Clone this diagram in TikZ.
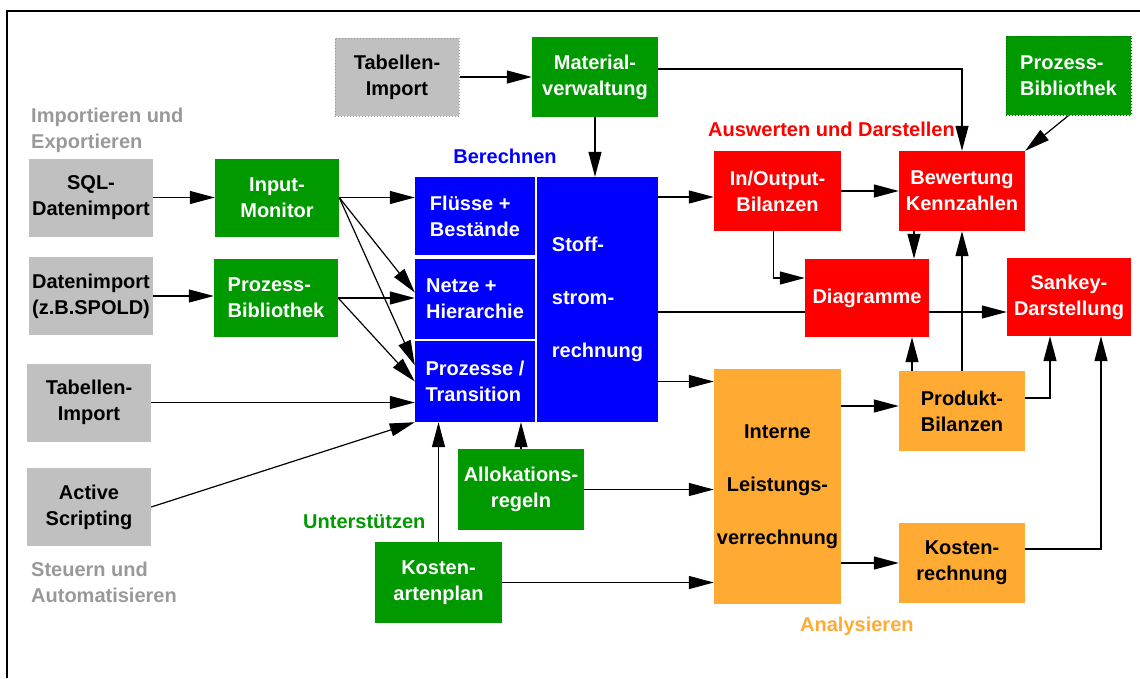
\documentclass[tikz,border=0pt]{standalone}
\usepackage{fontspec}
\setmainfont{Liberation Sans}
\usetikzlibrary{arrows.meta, positioning}

\definecolor{boxgray}{RGB}{192,192,192}
\definecolor{labelgray}{RGB}{153,153,153}
\definecolor{dkgreen}{RGB}{0,153,0}
\definecolor{orng}{RGB}{255,170,51}

\newcommand{\boxfont}{\fontsize{20}{26}\selectfont\bfseries}

\tikzset{
  box/.style={inner sep=0pt, align=center, font=\boxfont, minimum width=124pt, minimum height=78pt},
  importbox/.style={box, fill=boxgray, text=black},
  supportbox/.style={box, fill=dkgreen, text=white},
  calcbox/.style={box, fill=blue, text=white, align=left, minimum width=120pt},
  evalbox/.style={box, fill=red, text=white},
  analysebox/.style={box, fill=orng, text=black},
  heading/.style={font=\boxfont, inner sep=0pt, align=left},
  flow/.style={-{Triangle[length=25pt,width=13pt]}, line width=1.2pt},
  plain/.style={line width=1.2pt}
}

\begin{document}
\begin{tikzpicture}[x=1pt,y=-1pt]
\useasboundingbox (0,0) rectangle (1140,678);
\draw [line width=2pt] (7,678) -- (7,11) -- (1140,11);

% Importieren / Steuern
\node [heading, text=labelgray, anchor=west] (lbimport) at (31,130) {Importieren und\\Exportieren};
\node [importbox] (sqlimp) at (91,197.5) {SQL-\\Datenimport};
\node [importbox] (datimp) at (91,296) {Datenimport\\(z.B.SPOLD)};
\node [importbox] (tabimp) at (89,402.5) {Tabellen-\\Import};
\node [importbox] (actscr) at (89,507) {Active\\Scripting};
\node [heading, text=labelgray, anchor=west] (lbsteuern) at (31,582) {Steuern und\\Automatisieren};
\node [importbox, draw=labelgray, dotted, line width=1pt] (tabtop) at (397,77) {Tabellen-\\Import};

% Unterstuetzen
\node [supportbox] (inmon) at (277,197.5) {Input-\\Monitor};
\node [supportbox, align=left] (procbib) at (276,298) {Prozess-\\Bibliothek};
\node [supportbox, minimum width=126pt, minimum height=80pt] (matver) at (595,77) {Material-\\verwaltung};
\node [supportbox, align=left, minimum width=125pt, minimum height=79pt,
       draw=green!40!black, dotted, line width=1pt] (procbibtop) at (1068.5,75.5) {Prozess-\\Bibliothek};
\node [supportbox, minimum width=126pt, minimum height=81pt] (alloc) at (521,489.5) {Allokations-\\regeln};
\node [supportbox, minimum width=127pt, minimum height=81pt] (kostart) at (438.5,582.5) {Kosten-\\artenplan};
\node [heading, text=dkgreen, anchor=west] (lbsupport) at (303,522) {Unterstützen};

% Berechnen
\node [heading, text=blue] (lbcalc) at (505,156) {Berechnen};
\node [calcbox] (flows) at (475,216) {Flüsse +\\Bestände};
\node [calcbox, minimum height=80pt] (netze) at (475,298.5) {Netze +\\Hierarchie};
\node [calcbox, minimum height=81pt] (procs) at (475,381.5) {Prozesse /\\Transition};
\node [calcbox, minimum width=121pt, minimum height=245pt] (stoff) at (597.5,299.5) {Stoff-\\[27pt]strom-\\[27pt]rechnung};

% Auswerten und Darstellen
\node [heading, text=red, anchor=east] (lbeval) at (955,129.5) {Auswerten und Darstellen};
\node [evalbox, minimum width=127pt, minimum height=80pt] (iobil) at (777.5,191) {In/Output-\\Bilanzen};
\node [evalbox, minimum width=126pt, minimum height=80pt] (bewert) at (962,191) {Bewertung\\Kennzahlen};
\node [evalbox] (diagr) at (867,298) {Diagramme};
\node [evalbox] (sankey) at (1069,297) {Sankey-\\Darstellung};

% Analysieren
\node [analysebox, minimum width=127pt, minimum height=235pt] (intern) at (777.5,486.5) {Interne\\[27pt]Leistungs-\\[27pt]verrechnung};
\node [analysebox, minimum width=126pt, minimum height=80pt] (prodbil) at (962,411) {Produkt-\\Bilanzen};
\node [analysebox, minimum width=126pt, minimum height=80pt] (kostrech) at (962,563) {Kosten-\\rechnung};
\node [heading, text=orng, anchor=west] (lbanalyse) at (800,626.5) {Analysieren};

% Verbindungen links
\draw [flow] (sqlimp) -- (inmon);
\draw [flow] (datimp.east) -- (datimp.east -| procbib.west);
\draw [flow] (inmon.east) -- (inmon.east -| flows.west);
\draw [flow] (inmon.east) -- ([yshift=6pt]netze.west);
\draw [flow] (inmon.east) -- (procs.165);
\draw [flow] (procbib.east) -- (procbib.east -| netze.west);
\draw [flow] (procbib.east) -- (procs.west);
\draw [flow] (tabimp.east) -- (tabimp.east -| procs.west);
\draw [flow] (actscr.east) -- (procs.south west);

% Verbindungen oben
\coordinate (matout) at ([yshift=8pt]matver.east);
\draw [flow] (tabtop.east) -- (matver.west);
\draw [flow] (matver.south) -- (matver.south |- stoff.north);
\draw [flow] (matout) -| (bewert.north);
\draw [flow] (procbibtop.south) -- (bewert.north east);

% Verbindungen rechts
\coordinate (iobilin) at ([yshift=-6pt]iobil.west);
\coordinate (sankin) at ([yshift=-15pt]sankey.west);
\coordinate (diagin) at ([yshift=20pt]diagr.west);
\coordinate (bewdown) at ([xshift=-48pt]bewert.south);
\coordinate (produp) at ([xshift=-50pt]prodbil.north);
\coordinate (prodout) at ([yshift=13pt]prodbil.east);
\coordinate (sankinl) at ([xshift=-19pt]sankey.south);
\coordinate (krout) at ([yshift=14pt]kostrech.east);
\coordinate (sankinr) at ([xshift=32pt]sankey.south);
\coordinate (stoffout) at ([yshift=-82pt]stoff.east);
\coordinate (prodin) at ([yshift=5pt]prodbil.west);
\draw [flow] (iobilin -| stoff.east) -- (iobilin);
\draw [plain] (sankin -| stoff.east) -- (sankin -| diagr.west);
\draw [flow] (sankin -| diagr.east) -- (sankin);
\draw [flow] (iobil.east) -- (bewert.west);
\draw [flow] ([xshift=-4pt]iobil.south) |- (diagin);
\draw [flow] (bewdown) -- (bewdown |- diagr.north);
\draw [flow] (prodbil.north) -- (prodbil.north |- bewert.south);
\draw [flow] (produp) -- (produp |- diagr.south);
\draw [flow] (prodout) -| (sankinl);
\draw [flow] (krout) -| (sankinr);

% Verbindungen unten
\draw [flow] (stoffout) -- (stoffout -| intern.west);
\draw [flow] (prodin -| intern.east) -- (prodin);
\draw [flow] (kostrech.west -| intern.east) -- (kostrech.west);
\draw [flow] (alloc.east) -- (alloc.east -| intern.west);
\draw [flow] (alloc.north) -- (alloc.north |- procs.south);
\draw [flow] (kostart.north) -- (kostart.north |- procs.south);
\draw [flow] (kostart.east) -- (kostart.east -| intern.west);
\end{tikzpicture}
\end{document}
